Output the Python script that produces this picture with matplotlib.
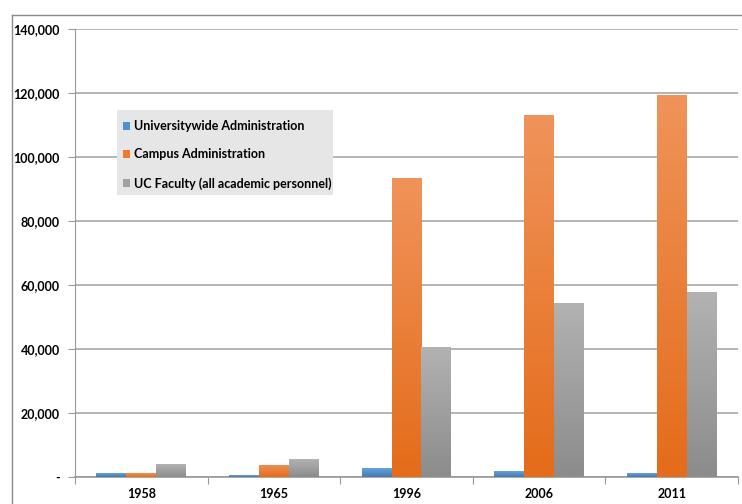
import numpy as np
import matplotlib
matplotlib.use("Agg")
import matplotlib.pyplot as plt
from matplotlib.patches import Patch, Rectangle
from matplotlib.lines import Line2D
from matplotlib.colors import LinearSegmentedColormap
from matplotlib.ticker import FuncFormatter, MultipleLocator

years = ["1958", "1965", "1996", "2006", "2011"]
series_names = ["Universitywide Administration", "Campus Administration",
                "UC Faculty (all academic personnel)"]
universitywide = [1200, 600, 2800, 1800, 1200]
campus = [1200, 3800, 93400, 113000, 119300]
faculty = [4000, 5600, 40600, 54400, 57800]

# top (light) -> bottom (dark) gradient colours per series
grad_colors = [("#62A3E0", "#4878AC"), ("#F0935A", "#E46C1A"), ("#B2B2B2", "#8C8C8C")]
legend_colors = ["#4F8FD6", "#EE7A2A", "#A0A0A0"]

plt.rcParams["font.family"] = ["Lato", "DejaVu Sans"]
plt.rcParams["font.weight"] = "bold"

fig = plt.figure(figsize=(7.42, 5.04), dpi=100)
ax = fig.add_axes([75 / 742, 27 / 504, 663 / 742, 448 / 504])

x = np.arange(len(years))
w = 0.226
values = [universitywide, campus, faculty]
for i, vals in enumerate(values):
    bars = ax.bar(x + (i - 1) * w, vals, w, facecolor="none", edgecolor="none", zorder=3)
    cmap = LinearSegmentedColormap.from_list("g%d" % i, [grad_colors[i][0], grad_colors[i][1]])
    for b in bars:
        x0, y0 = b.get_x(), b.get_y()
        im = ax.imshow(np.linspace(0, 1, 100).reshape(-1, 1), cmap=cmap, aspect="auto",
                       extent=[x0, x0 + b.get_width(), y0, y0 + b.get_height()],
                       origin="upper", zorder=3)
        im.set_clip_path(b)

ax.set_xlim(-0.5, len(years) - 0.5)
ax.set_ylim(0, 140000)
ax.yaxis.set_major_locator(MultipleLocator(20000))
ax.yaxis.set_major_formatter(FuncFormatter(lambda v, p: "-" if v == 0 else "{:,.0f}".format(v)))
ax.grid(axis="y", color="#A8A8A8", linewidth=1.2, zorder=0)
ax.set_axisbelow(True)

# category boundaries get the tick marks, labels sit at the centres
ax.set_xticks(np.arange(len(years) + 1) - 0.5)
ax.set_xticklabels([])
ax.set_xticks(x, minor=True)
ax.set_xticklabels(years, minor=True)
ax.tick_params(axis="x", which="major", length=5, color="#999999", direction="out")
ax.tick_params(axis="x", which="minor", length=0, pad=8, labelsize=9)
ax.tick_params(axis="y", length=5, color="#999999", labelsize=9, pad=6)
for lab in ax.get_yticklabels() + ax.get_xticklabels(minor=True):
    lab.set_fontweight("bold")

for s in ["top", "right"]:
    ax.spines[s].set_visible(False)
ax.spines["left"].set_color("#999999")
ax.spines["bottom"].set_color("#999999")
ax.spines["bottom"].set_linewidth(1.2)

# legend: grey box drawn separately, entries placed on top of it
ax.add_patch(Rectangle((0.0633, 0.629), 0.326, 0.19, transform=ax.transAxes,
                       facecolor="#E6E6E6", edgecolor="none", zorder=4))
handles = [Patch(facecolor=c, edgecolor="none") for c in legend_colors]
leg = ax.legend(handles, series_names, loc="upper left", bbox_to_anchor=(0.072, 0.797),
                frameon=False, handlelength=0.6, handleheight=0.6, handletextpad=0.3,
                labelspacing=1.32, borderpad=0, borderaxespad=0,
                prop={"size": 9, "weight": "bold"})
leg.set_zorder(5)

# outer chart frame
fig.add_artist(Line2D([12 / 742, 12 / 742], [0, 1 - 15 / 504], color="#8A8A8A", lw=1))
fig.add_artist(Line2D([12 / 742, 1], [1 - 15 / 504, 1 - 15 / 504], color="#8A8A8A", lw=1))

fig.savefig("out.png", dpi=100)
